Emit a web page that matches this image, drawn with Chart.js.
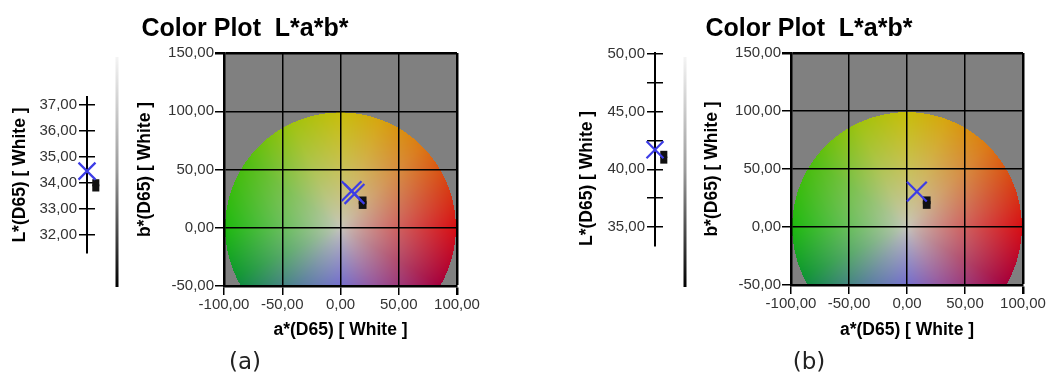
<!DOCTYPE html>
<html>
<head>
<meta charset="utf-8">
<script src="https://cdn.jsdelivr.net/npm/chart.js@4.4.0/dist/chart.umd.min.js"></script>
<style>
  html, body { margin: 0; padding: 0; background: #fff; }
  body { width: 1048px; height: 382px; position: relative; overflow: hidden; }
  .box { position: absolute; top: 0; height: 382px; }
  #abA { left: 0; width: 490px; }
  #lA { left: 0; width: 130px; }
  #abB { left: 570px; width: 478px; }
  #lB { left: 540px; width: 160px; }
</style>
</head>
<body>
<div class="box" id="abA"><canvas id="cAbA"></canvas></div>
<div class="box" id="lA"><canvas id="cLA"></canvas></div>
<div class="box" id="abB"><canvas id="cAbB"></canvas></div>
<div class="box" id="lB"><canvas id="cLB"></canvas></div>
<script>
// ---- data ----
const aTicks = [-100, -50, 0, 50, 100];
const bTicks = [-50, 0, 50, 100, 150];
const lTicksA = [32, 33, 34, 35, 36, 37];
const lLabelsA = [32, 33, 34, 35, 36, 37];
const lTicksB = [35, 37.5, 40, 42.5, 45, 47.5, 50];
const lLabelsB = [35, 40, 45, 50];

// panel (a)
const crossA_a = [9.5, 12];
const crossA_b = [31.5, 29];
const dotA_a = [19, 19];
const dotA_b = [23.5, 19.5];
const crossA_L = [34.45];
const dotA_L = [34.0, 33.8];

// panel (b)
const crossB_a = [8.5];
const crossB_b = [30.5];
const dotB_a = [17, 17];
const dotB_b = [23, 19];
const crossB_L = [41.7];
const dotB_L = [41.3, 40.8];

// colour disk (hue angle in degrees -> rim colour)
const hueAngles = [0, 20, 45, 70, 90, 115, 145, 180, 205, 235, 270, 300, 330, 360];
const hueColors = [
  [215, 15, 20], [215, 60, 20], [220, 120, 20], [215, 165, 15], [200, 190, 10],
  [160, 195, 15], [80, 190, 15], [30, 185, 15], [15, 150, 50], [30, 90, 140],
  [50, 40, 220], [120, 20, 140], [165, 0, 60], [215, 15, 20]
];
const CENTER = [198, 198, 188];
const GRAY = [128, 128, 128];
const RIM = 99;

const SANS = '"Liberation Sans", Arial, sans-serif';
const BLUE = '#3c3ce6';
const fmt = v => v.toFixed(2).replace('.', ',');

function diskColor(a, b) {
  const r = Math.hypot(a, b);
  if (r > RIM) return GRAY;
  let th = Math.atan2(b, a) * 180 / Math.PI;
  if (th < 0) th += 360;
  let k = 0;
  while (k < hueAngles.length - 2 && th > hueAngles[k + 1]) k++;
  const f = (th - hueAngles[k]) / (hueAngles[k + 1] - hueAngles[k]);
  const c0 = hueColors[k], c1 = hueColors[k + 1];
  const t = Math.pow(r / RIM, 0.85);
  const out = [];
  for (let i = 0; i < 3; i++) {
    const rim = c0[i] + (c1[i] - c0[i]) * f;
    out.push(CENTER[i] + (rim - CENTER[i]) * t);
  }
  return out;
}

// gray plot background + colour disk, drawn under the grid
const diskPlugin = {
  id: 'disk',
  beforeDraw(chart) {
    const { ctx, chartArea: ca, scales: { x, y } } = chart;
    const w = Math.round(ca.right - ca.left), h = Math.round(ca.bottom - ca.top);
    const off = document.createElement('canvas');
    off.width = w; off.height = h;
    const octx = off.getContext('2d');
    const img = octx.createImageData(w, h);
    for (let j = 0; j < h; j++) {
      const b = y.getValueForPixel(ca.top + j + 0.5);
      for (let i = 0; i < w; i++) {
        const a = x.getValueForPixel(ca.left + i + 0.5);
        const c = diskColor(a, b);
        const p = (j * w + i) * 4;
        img.data[p] = c[0]; img.data[p + 1] = c[1]; img.data[p + 2] = c[2]; img.data[p + 3] = 255;
      }
    }
    octx.putImageData(img, 0, 0);
    ctx.drawImage(off, ca.left, ca.top);
  }
};

// white-to-black lightness bar beside the L* axis
const shadePlugin = {
  id: 'shade',
  afterDraw(chart) {
    const { ctx, chartArea: ca } = chart;
    const x = ca.right + 22;
    const g = ctx.createLinearGradient(0, 57, 0, 287);
    g.addColorStop(0, '#f4f4f4');
    g.addColorStop(0.5, '#9a9a9a');
    g.addColorStop(1, '#000');
    ctx.save();
    ctx.fillStyle = g;
    ctx.fillRect(x - 1.5, 57, 3, 230);
    ctx.restore();
  }
};

function abChart(id, o) {
  return new Chart(document.getElementById(id), {
    type: 'scatter',
    data: {
      datasets: [
        {
          data: o.crossA.map((a, i) => ({ x: a, y: o.crossB[i] })),
          pointStyle: 'crossRot', radius: 14, borderColor: BLUE, borderWidth: 2.2, clip: false
        },
        {
          data: o.dotA.map((a, i) => ({ x: a, y: o.dotB[i] })),
          pointStyle: 'rect', radius: 5.5, backgroundColor: '#111', borderColor: '#111', borderWidth: 0, clip: false
        }
      ]
    },
    options: {
      animation: false,
      responsive: true,
      maintainAspectRatio: false,
      events: [],
      layout: { padding: { left: o.padLeft, right: o.padRight, top: 0, bottom: 0 } },
      plugins: {
        legend: { display: false },
        tooltip: { enabled: false },
        title: {
          display: true, text: 'Color Plot  L*a*b*', color: '#000',
          font: { family: SANS, size: 25, weight: 'bold', lineHeight: 1.2 },
          padding: { top: 14, bottom: 9 }
        },
        subtitle: {
          display: true, position: 'bottom', text: o.caption, color: '#222',
          font: { family: '"DejaVu Sans", sans-serif', size: 23, lineHeight: 1.2 },
          padding: { top: 3, bottom: 5.4 }
        }
      },
      scales: {
        x: {
          type: 'linear', min: -100, max: 100,
          afterBuildTicks: s => { s.ticks = aTicks.map(v => ({ value: v })); },
          afterFit: s => { s.height = o.xHeight; s.paddingLeft = 0; s.paddingRight = 0; },
          grid: { color: '#000', tickColor: '#000', tickLength: 9, lineWidth: c => (c.tick && c.tick.value === 100 ? 2.5 : 1.5) },
          border: { color: '#000', width: 2.5 },
          ticks: { padding: 1, color: '#333', font: { family: SANS, size: 15 }, callback: v => fmt(v), maxRotation: 0, autoSkip: false },
          title: {
            display: true, text: 'a*(D65) [ White ]', color: '#000',
            font: { family: SANS, size: 17.5, weight: 'bold' }, padding: { top: 0, bottom: 5 }
          }
        },
        y: {
          type: 'linear', min: -50, max: 150,
          afterBuildTicks: s => { s.ticks = bTicks.map(v => ({ value: v })); },
          afterFit: s => { s.width = o.yWidth; s.paddingTop = 0; s.paddingBottom = 0; },
          grid: { color: '#000', tickColor: '#000', tickLength: 9, lineWidth: c => (c.tick && c.tick.value === 150 ? 2.5 : 1.5) },
          border: { color: '#000', width: 2.5 },
          ticks: { padding: 1, color: '#333', font: { family: SANS, size: 15 }, callback: v => fmt(v) },
          title: {
            display: true, text: 'b*(D65) [ White ]', color: '#000',
            font: { family: SANS, size: 17.5, weight: 'bold' }, padding: { top: o.yTitlePad, bottom: 0 }
          }
        }
      }
    },
    plugins: [diskPlugin]
  });
}

function lChart(id, o) {
  return new Chart(document.getElementById(id), {
    type: 'scatter',
    data: {
      datasets: [
        {
          data: o.cross.map(v => ({ x: 0, y: v })),
          pointStyle: 'crossRot', radius: 12, borderColor: BLUE, borderWidth: 2.2, clip: false
        },
        {
          data: o.dots.map(v => ({ x: 1.1, y: v })),
          pointStyle: 'rect', radius: 5, backgroundColor: '#111', borderColor: '#111', borderWidth: 0, clip: false
        }
      ]
    },
    options: {
      animation: false,
      responsive: true,
      maintainAspectRatio: false,
      events: [],
      layout: { padding: { left: 0, right: o.padRight, top: o.padTop, bottom: o.padBottom } },
      plugins: { legend: { display: false }, tooltip: { enabled: false } },
      scales: {
        x: { type: 'linear', min: 0, max: 1, display: false },
        y: {
          type: 'linear', min: o.min, max: o.max,
          afterBuildTicks: s => { s.ticks = o.ticks.map(v => ({ value: v })); },
          afterFit: s => { s.width = o.axisWidth; s.paddingTop = 0; s.paddingBottom = 0; },
          grid: { color: '#000', tickColor: '#000', tickLength: 8, lineWidth: 1.5, drawOnChartArea: true },
          border: { color: '#000', width: 2 },
          ticks: { padding: 2, color: '#333', font: { family: SANS, size: 15 }, callback: v => (o.labels.includes(v) ? fmt(v) : '') },
          title: {
            display: true, text: 'L*(D65) [ White ]', color: '#000', align: o.titleAlign,
            font: { family: SANS, size: 17.5, weight: 'bold' }, padding: { top: o.titlePad, bottom: 0 }
          }
        }
      }
    },
    plugins: [shadePlugin]
  });
}

abChart('cAbA', {
  crossA: crossA_a, crossB: crossA_b, dotA: dotA_a, dotB: dotA_b,
  caption: '(a)', padLeft: 33, padRight: 33, yWidth: 191, xHeight: 60, yTitlePad: 101.5
});
abChart('cAbB', {
  crossA: crossB_a, crossB: crossB_b, dotA: dotB_a, dotB: dotB_b,
  caption: '(b)', padLeft: 25, padRight: 25, yWidth: 196, xHeight: 61, yTitlePad: 106.5
});
lChart('cLA', {
  cross: crossA_L, dots: dotA_L, ticks: lTicksA, labels: lLabelsA,
  min: 31.29, max: 37.31, axisWidth: 87, padRight: 35, padTop: 97, padBottom: 129,
  titlePad: 9.5, titleAlign: 'center'
});
lChart('cLB', {
  cross: crossB_L, dots: dotB_L, ticks: lTicksB, labels: lLabelsB,
  min: 33.35, max: 50.09, axisWidth: 115, padRight: 37, padTop: 53, padBottom: 136,
  titlePad: 36.5, titleAlign: 'start'
});
</script>
</body>
</html>
